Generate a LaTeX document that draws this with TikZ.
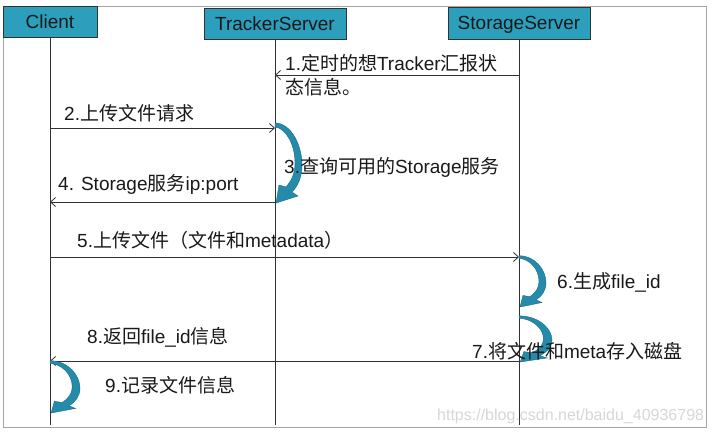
\documentclass[tikz,border=0pt]{standalone}
\usepackage{fontspec}
\setmainfont{Liberation Sans}
\newfontfamily\zhfont{Noto Sans CJK SC}
\newcommand\zh[1]{{\zhfont #1}}
\usetikzlibrary{arrows.meta}
\definecolor{boxteal}{RGB}{43,159,188}
\definecolor{arrteal}{RGB}{36,140,170}
\definecolor{arredge}{RGB}{25,105,130}
\definecolor{linegray}{RGB}{50,50,50}
\definecolor{framegray}{RGB}{165,165,165}
\definecolor{wmgray}{RGB}{215,215,215}
\tikzset{
 actor/.style={draw=linegray, line width=0.9pt, fill=boxteal, inner sep=0pt,
   text height=13.6pt, text depth=0pt, font=\fontsize{19}{22}\selectfont, text=black!90},
 life/.style={draw=linegray, line width=0.9pt},
 msg/.style={draw=linegray, line width=0.8pt, -{Straight Barb[length=5pt,width=9pt]}},
 lbl/.style={anchor=base west, inner sep=0pt, font=\fontsize{19}{23}\selectfont, text=black!90},
 selfarr/.style={fill=arrteal, draw=arredge, line width=0.4pt},
 wm/.style={anchor=base west, inner sep=0pt, font=\fontsize{16}{19}\selectfont, text=wmgray},
}
\newcommand\mySelfArrow[4]{%
 \begin{scope}[shift={(#1,#2)}, xscale=#4/27, yscale=#3/78]
  \path[selfarr] (0,-2) .. controls (16,-2) and (27,20) .. (27,40)
    .. controls (27,52) and (23,61) .. (17,67)
    -- (23,71) -- (1,78) -- (4,60) -- (11,62)
    .. controls (17,55) and (20,48) .. (20,38)
    .. controls (20,18) and (10,3) .. (0,2) -- cycle;
 \end{scope}}
\begin{document}
\begin{tikzpicture}[x=1pt,y=-1pt]
\useasboundingbox (0,0) rectangle (713,434);
\fill[white] (0,0) rectangle (713,434);
\draw[framegray, line width=0.8pt] (3,6) rectangle (706,427);
% actors
\node[actor, minimum width=94pt, minimum height=31pt] (client) at (50,21.5) {Client};
\node[actor, minimum width=142pt, minimum height=31pt] (tracker) at (275,24) {TrackerServer};
\node[actor, minimum width=142pt, minimum height=32pt] (storage) at (519,23) {StorageServer};
% lifeline ends
\coordinate (clientend) at (50,425);
\coordinate (trackerend) at (275,425);
\coordinate (storageend) at (519,425);
\draw[life] (client.south) -- (clientend);
\draw[life] (tracker.south) -- (trackerend);
\draw[life] (storage.south) -- (storageend);
% message points
\coordinate (s1) at (519,75);   \coordinate (t1) at (275,75);
\coordinate (c2) at (50,128);   \coordinate (t2) at (275,128);
\coordinate (t4) at (275,202);  \coordinate (c4) at (50,202);
\coordinate (c5) at (50,257);   \coordinate (s5) at (519,257);
\coordinate (s8) at (519,361);  \coordinate (c8) at (50,361);
\draw[msg] (s1) -- (t1);
\draw[msg] (c2) -- (t2);
\draw[msg] (t4) -- (c4);
\draw[msg] (c5) -- (s5);
\draw[msg] (s8) -- (c8);
% self arrows
\mySelfArrow{275}{125}{78}{27}
\mySelfArrow{519}{257}{50}{27}
\mySelfArrow{519}{317}{45}{33}
\mySelfArrow{50}{362}{51}{30}
% labels
\node[lbl] (l1a) at (285,70.5) {1.\zh{定时的想}Tracker\zh{汇报状}};
\node[lbl] (l1b) at (285,94) {\zh{态信息。}};
\node[lbl] (l2) at (64,120) {2.\zh{上传文件请求}};
\node[lbl] (l3) at (284,173) {3.\zh{查询可用的}Storage\zh{服务}};
\node[lbl] (l4) at (58,190) {4. Storage\zh{服务}ip:port};
\node[lbl] (l5) at (77,247) {5.\zh{上传文件（文件和}metadata\zh{）}};
\node[lbl] (l6) at (557,288) {6.\zh{生成}file\_id};
\node[lbl] (l7) at (472,358) {7.\zh{将文件和}meta\zh{存入磁盘}};
\node[lbl] (l8) at (87,343) {8.\zh{返回}file\_id\zh{信息}};
\node[lbl] (l9) at (105,392) {9.\zh{记录文件信息}};
\node[wm] (wmark) at (437,420) {https://blog.csdn.net/baidu\_40936798};
\end{tikzpicture}
\end{document}
